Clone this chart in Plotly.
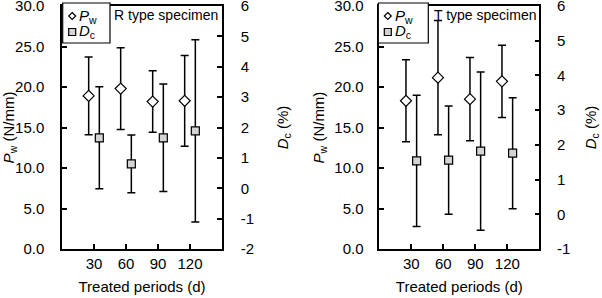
import plotly.graph_objects as go

periods = [30, 60, 90, 120]
tick_labels = ["30", "60", "90", "120"]

# R type specimen
r_pw_mean = [18.9, 19.8, 18.2, 18.3]
r_pw_err = [4.8, 5.05, 3.8, 5.6]
r_dc_mean = [1.66, 0.80, 1.66, 1.89]
r_dc_err = [1.68, 0.95, 1.77, 3.0]

# T type specimen
t_pw_mean = [18.3, 21.15, 18.5, 20.7]
t_pw_err = [5.05, 7.05, 5.15, 4.45]
t_dc_mean = [1.54, 1.56, 1.82, 1.76]
t_dc_err = [1.89, 1.56, 2.28, 1.6]

pw_ticks = [0, 5, 10, 15, 20, 25, 30]
r_dc_ticks = [-2, -1, 0, 1, 2, 3, 4, 5, 6]
t_dc_ticks = [-1, 0, 1, 2, 3, 4, 5, 6]

W, H = 602, 298
FONT = "Arial, Liberation Sans, sans-serif"
OFF = 5

def px_x(p):
    return p / W

def px_y(p):
    return 1 - p / H

fig = go.Figure()

PW_NAME = "<i>P</i><sub>w</sub>"
DC_NAME = "<i>D</i><sub>c</sub>"

def add_panel(pw_m, pw_e, dc_m, dc_e, xa, ya_l, ya_r):
    fig.add_trace(go.Scatter(
        x=[p - OFF for p in periods], y=pw_m, mode="markers", name=PW_NAME,
        marker=dict(symbol="diamond", size=8.5, color="white",
                    line=dict(color="black", width=1.2)),
        error_y=dict(type="data", array=pw_e, visible=True, color="black",
                     thickness=1.5, width=4),
        xaxis=xa, yaxis=ya_l, showlegend=False))
    fig.add_trace(go.Scatter(
        x=[p + OFF for p in periods], y=dc_m, mode="markers", name=DC_NAME,
        marker=dict(symbol="square", size=8, color="#d4d4d4",
                    line=dict(color="black", width=1.2)),
        error_y=dict(type="data", array=dc_e, visible=True, color="black",
                     thickness=1.5, width=4),
        xaxis=xa, yaxis=ya_r, showlegend=False))

add_panel(r_pw_mean, r_pw_err, r_dc_mean, r_dc_err, "x", "y", "y2")
add_panel(t_pw_mean, t_pw_err, t_dc_mean, t_dc_err, "x2", "y3", "y4")

ydom = [px_y(249), px_y(6)]
axfont = dict(family=FONT, size=15, color="black")

common = dict(showline=True, linecolor="black", linewidth=1.5, ticks="inside",
              ticklen=5, tickwidth=1.5, tickcolor="black", showgrid=False,
              zeroline=False, tickfont=axfont, ticklabeloverflow="allow",
              automargin=False)

xcommon = dict(common, range=[0, 150], tickvals=periods, ticktext=tick_labels,
               mirror=True, ticklabelstandoff=0,
               title=dict(text="Treated periods (d)", font=axfont, standoff=11))

def lbl(v):
    return str(v)

fig.update_layout(
    width=W, height=H, margin=dict(l=0, r=0, t=0, b=0, autoexpand=False),
    paper_bgcolor="white", plot_bgcolor="white",
    font=dict(family=FONT, color="black"),
    showlegend=False,
    xaxis=dict(xcommon, domain=[px_x(62), px_x(222)], anchor="y"),
    xaxis2=dict(xcommon, domain=[px_x(379.3), px_x(539.3)], anchor="y3"),
    yaxis=dict(common, domain=ydom, range=[0, 30], tickvals=pw_ticks,
               tickformat=".1f", anchor="x", ticklabelstandoff=13,
               title=dict(text=PW_NAME + " (N/mm)", font=axfont, standoff=9)),
    yaxis2=dict(common, range=[-2, 6], tickvals=r_dc_ticks,
                ticktext=[lbl(v) for v in r_dc_ticks], overlaying="y",
                side="right", anchor="x", ticklabelstandoff=14,
                title=dict(text=DC_NAME + " (%)", font=axfont, standoff=24)),
    yaxis3=dict(common, domain=ydom, range=[0, 30], tickvals=pw_ticks,
                tickformat=".1f", anchor="x2", ticklabelstandoff=11,
                title=dict(text=PW_NAME + " (N/mm)", font=axfont, standoff=6)),
    yaxis4=dict(common, range=[-1, 6], tickvals=t_dc_ticks,
                ticktext=[lbl(v) for v in t_dc_ticks], overlaying="y3",
                side="right", anchor="x2", ticklabelstandoff=13,
                title=dict(text=DC_NAME + " (%)", font=axfont, standoff=16)),
)

# Legend boxes (legend keys + labels)
def add_legend(x0, x1):
    fig.add_shape(type="rect", xref="paper", yref="paper",
                  x0=px_x(x0), x1=px_x(x1), y0=px_y(43), y1=px_y(3),
                  line=dict(color="black", width=1.2), fillcolor="white")
    kx = x0 + 9.5
    fig.add_shape(type="path", xref="paper", yref="paper",
                  path=(f"M {px_x(kx)} {px_y(12.5)} L {px_x(kx + 3.5)} {px_y(16)} "
                        f"L {px_x(kx)} {px_y(19.5)} L {px_x(kx - 3.5)} {px_y(16)} Z"),
                  line=dict(color="black", width=1.2), fillcolor="white")
    fig.add_shape(type="rect", xref="paper", yref="paper",
                  x0=px_x(kx - 3.5), x1=px_x(kx + 3.5), y0=px_y(35.5), y1=px_y(28.5),
                  line=dict(color="black", width=1.2), fillcolor="#d4d4d4")
    for name, yy in ((PW_NAME, 16), (DC_NAME, 32)):
        fig.add_annotation(text=name, xref="paper", yref="paper",
                           x=px_x(kx + 5), y=px_y(yy), xanchor="left",
                           yanchor="middle", showarrow=False,
                           font=dict(family=FONT, size=15))

add_legend(62.7, 110)
add_legend(378.3, 428.3)

fig.add_annotation(text="R type specimen", xref="x", yref="paper",
                   x=148.5, y=px_y(15), xanchor="right", yanchor="middle",
                   showarrow=False, font=dict(family=FONT, size=14))
fig.add_annotation(text="T type specimen", xref="x2", yref="paper",
                   x=148.5, y=px_y(15), xanchor="right", yanchor="middle",
                   showarrow=False, font=dict(family=FONT, size=14))

# remove the default page margin so the figure sits at the window's corner
fig.write_html("out.html", config={"displayModeBar": False},
               post_script="document.body.style.margin='0px';document.body.style.overflow='hidden';")
